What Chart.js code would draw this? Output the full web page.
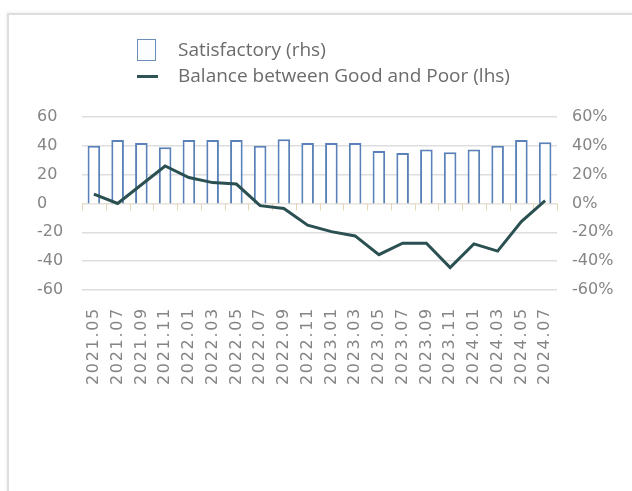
<!DOCTYPE html>
<html><head><meta charset="utf-8">
<script src="https://cdn.jsdelivr.net/npm/chart.js@4.4.1/dist/chart.umd.min.js"></script>
<style>
html,body{margin:0;padding:0;background:#fff;width:632px;height:491px;overflow:hidden;position:relative;font-family:'DejaVu Sans',sans-serif}
#card{position:absolute;left:7px;top:13px;width:660px;height:520px;border-left:2px solid #dedede;border-top:2px solid #dedede;box-shadow:-1px -1px 3px rgba(0,0,0,0.06)}
#c{position:absolute;left:0;top:0}
#legend{position:absolute;left:137px;top:36px;font-family:'Open Sans',sans-serif;font-size:19px;color:#6b6b6b;line-height:26px}
.item{position:relative;height:26px;padding-left:41px;white-space:nowrap}
.box{position:absolute;left:0;top:3px;width:17px;height:20px;border:1.5px solid #6b8fb8;background:#fbfdff}
.ln{position:absolute;left:0;top:13px;width:21px;height:3px;background:#2e5456}
</style></head>
<body>
<div id="card"></div>
<canvas id="c" width="632" height="491"></canvas>
<div id="legend"></div>
<script>
const categories = ['2021.05','2021.07','2021.09','2021.11','2022.01','2022.03','2022.05','2022.07','2022.09','2022.11','2023.01','2023.03','2023.05','2023.07','2023.09','2023.11','2024.01','2024.03','2024.05','2024.07'];
const satisfactory = [40, 44, 42, 39, 44, 44, 44, 40, 44.5, 42, 42, 42, 36.5, 35, 37.5, 35.5, 37.5, 40, 44, 42.5];
const balance = [6.5, 0, 13, 26, 18, 14.5, 13.5, -1.5, -3.5, -15, -19.5, -22.5, -35.5, -27.5, -27.5, -44.5, -28, -33, -12.5, 2];
const seriesNames = ['Satisfactory (rhs)', 'Balance between Good and Poor (lhs)'];

const BAR_COLOR = '#5a82b8';
const LINE_COLOR = '#2b5052';
const TICK_COLOR = '#858585';

const zeroTicks = {
  id: 'zeroTicks',
  beforeDatasetsDraw(chart) {
    const {ctx, scales: {x, y}} = chart;
    const y0 = y.getPixelForValue(0);
    ctx.save();
    ctx.strokeStyle = '#e6d6b8';
    ctx.lineWidth = 1;
    for (let i = 0; i <= categories.length; i++) {
      const px = Math.round(x.getPixelForValue(i - 0.5)) + 0.5;
      ctx.beginPath();
      ctx.moveTo(px, y0);
      ctx.lineTo(px, y0 + 7);
      ctx.stroke();
    }
    ctx.restore();
  }
};

const spacing = {
  id: 'spacing',
  afterLayout(chart) {
    const s = chart.scales.x;
    if (!s._lsWrapped) {
      const orig = s.drawLabels;
      s.drawLabels = function (area) {
        const c = this.ctx;
        c.save();
        c.letterSpacing = '1.7px';
        orig.call(this, area);
        c.restore();
      };
      s._lsWrapped = true;
    }
  }
};

const chart = new Chart(document.getElementById('c'), {
  data: {
    labels: categories,
    datasets: [
      {
        type: 'bar', label: seriesNames[0], data: satisfactory, yAxisID: 'y1',
        backgroundColor: 'rgba(255,255,255,0.9)', borderColor: BAR_COLOR, borderWidth: 2,
        barPercentage: 0.53, categoryPercentage: 1, order: 2
      },
      {
        type: 'line', label: seriesNames[1], data: balance, yAxisID: 'y',
        borderColor: LINE_COLOR, borderWidth: 3, pointRadius: 0, tension: 0, fill: false, order: 1
      }
    ]
  },
  options: {
    responsive: false,
    animation: false,
    devicePixelRatio: 1,
    layout: {padding: {top: 117, left: 37, right: 0, bottom: 0}},
    plugins: {legend: {display: false}, tooltip: {enabled: false}},
    scales: {
      x: {
        offset: true,
        grid: {display: false, drawTicks: false},
        border: {display: false},
        ticks: {
          autoSkip: false, minRotation: 90, maxRotation: 90, padding: 17,
          color: TICK_COLOR, font: {family: 'DejaVu Sans', size: 16}
        },
        afterFit: s => { s.height = 491 - 290; }
      },
      y: {
        position: 'left', min: -60, max: 60,
        grid: {
          color: ctx => ctx.tick && ctx.tick.value === 0 ? '#e4e0d8' : '#dedede',
          lineWidth: 1.5, drawTicks: false
        },
        border: {display: false},
        ticks: {
          stepSize: 20, crossAlign: 'far', padding: 8,
          color: TICK_COLOR, font: {family: 'DejaVu Sans', size: 16}
        },
        afterFit: s => { s.width = 45; }
      },
      y1: {
        position: 'right', min: -60, max: 60,
        grid: {display: false, drawTicks: false},
        border: {display: false},
        ticks: {
          stepSize: 20, padding: 15,
          color: TICK_COLOR, font: {family: 'DejaVu Sans', size: 16},
          callback: v => v + '%'
        },
        afterFit: s => { s.width = 632 - 557; }
      }
    }
  },
  plugins: [zeroTicks, spacing]
});

const leg = document.getElementById('legend');
chart.data.datasets.forEach((ds, i) => {
  const d = document.createElement('div');
  d.className = 'item';
  const m = document.createElement('span');
  m.className = ds.type === 'bar' ? 'box' : 'ln';
  d.appendChild(m);
  d.appendChild(document.createTextNode(ds.label));
  leg.appendChild(d);
});
</script>
</body></html>
